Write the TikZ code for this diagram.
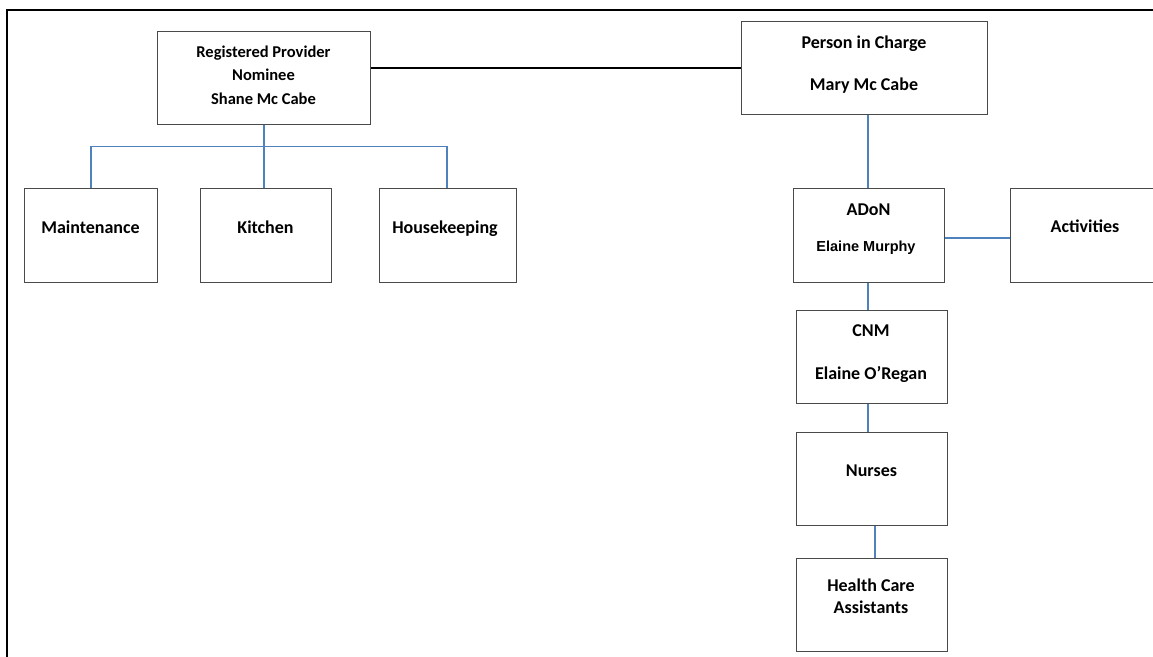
\documentclass[tikz,border=0pt]{standalone}
\usepackage{fontspec}
\setmainfont{Carlito}
\newfontfamily\arialb{Liberation Sans}
\definecolor{boxgray}{HTML}{4A4A4A}
\definecolor{connblue}{HTML}{4F81BD}
\begin{document}
\begin{tikzpicture}[x=1pt,y=-1pt,
  box/.style={draw=boxgray,line width=1.1pt,rectangle,anchor=north west,inner sep=0pt,fill=white},
  lbl/.style={anchor=base,inner sep=0pt,font=\fontsize{18}{22}\selectfont\bfseries},
  lblsm/.style={anchor=base,inner sep=0pt,font=\fontsize{16.5}{20}\selectfont\bfseries},
  conn/.style={draw=connblue,line width=1.2pt},
  blackconn/.style={draw=black,line width=1.4pt}]
\useasboundingbox (0,0) rectangle (1153,656);
% frame
\draw[line width=2pt,black] (7,657) -- (7,10) -- (1160,10);
% boxes
\node[box,minimum width=213pt,minimum height=93pt] (rp) at (157,31) {};
\node[box,minimum width=246pt,minimum height=93pt] (pic) at (741,21) {};
\node[box,minimum width=133pt,minimum height=94pt] (maint) at (24,188) {};
\node[box,minimum width=131pt,minimum height=94pt] (kit) at (200,188) {};
\node[box,minimum width=137pt,minimum height=94pt] (hk) at (379,188) {};
\node[box,minimum width=151pt,minimum height=94pt] (adon) at (793,188) {};
\node[box,minimum width=155pt,minimum height=94pt] (act) at (1010,188) {};
\node[box,minimum width=151pt,minimum height=93pt] (cnm) at (796,310) {};
\node[box,minimum width=151pt,minimum height=93pt] (nur) at (796,432) {};
\node[box,minimum width=151pt,minimum height=93pt] (hca) at (796,558) {};
% connectors
\draw[blackconn] (pic.west) -- (rp.east |- pic.west);
\draw[conn] (rp.south) -- (rp.south |- kit.north);
\draw[conn] (maint.north) -- ++(0,-41.5) -| ([xshift=-1pt]hk.north);
\draw[conn] ([xshift=3.5pt]pic.south) -- ([xshift=-1pt]adon.north);
\draw[conn] ([yshift=-2.5pt]adon.east) -- ([yshift=-2.5pt]act.west);
\draw[conn] ([xshift=-1pt]adon.south) -- ([xshift=-4pt]cnm.north);
\draw[conn] ([xshift=-4pt]cnm.south) -- ([xshift=-4pt]nur.north);
\draw[conn] ([xshift=3pt]nur.south) -- ([xshift=3pt]hca.north);
% labels
\node[lblsm] (rpA) at (263.5,57) {Registered Provider};
\node[lblsm] (rpB) at (263.5,80.5) {Nominee};
\node[lblsm] (rpC) at (263.5,104) {Shane Mc Cabe};
\node[lbl] (picA) at (864,48) {Person in Charge};
\node[lbl] (picB) at (864,90) {Mary Mc Cabe};
\node[lbl] (maintT) at (90.5,233) {Maintenance};
\node[lbl] (kitT) at (265.5,233) {Kitchen};
\node[lbl] (hkT) at (445,233) {Housekeeping};
\node[lbl] (adonA) at (868.5,215) {ADoN};
\node[anchor=base,inner sep=0pt,font=\arialb\fontsize{14.5}{17}\selectfont\bfseries] (adonB) at (866,251) {Elaine Murphy};
\node[lbl] (actT) at (1085,232) {Activities};
\node[lbl] (cnmA) at (871,336) {CNM};
\node[lbl] (cnmB) at (871,379) {Elaine O’Regan};
\node[lbl] (nurT) at (871.5,476) {Nurses};
\node[lbl] (hcaA) at (871,591) {Health Care};
\node[lbl] (hcaB) at (871,613) {Assistants};
\end{tikzpicture}
\end{document}
